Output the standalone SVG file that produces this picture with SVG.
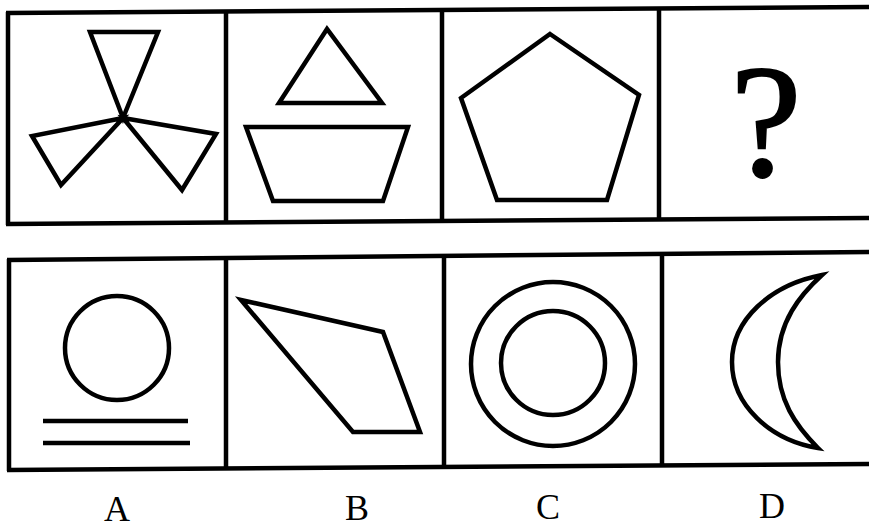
<svg xmlns="http://www.w3.org/2000/svg" width="869" height="531" viewBox="0 0 869 531">
<style>
.s{fill:none;stroke:#000;stroke-width:4.5;stroke-linejoin:miter}
.b{fill:none;stroke:#000;stroke-width:4.5}
.t{font-family:"Liberation Serif","Times New Roman",serif;fill:#000;text-anchor:middle}
</style>
<rect width="869" height="531" fill="#fff"/>
<g id="grid">
<line class="b" x1="6" y1="13" x2="869" y2="7"/>
<line class="b" x1="6" y1="224" x2="869" y2="218"/>
<line class="b" x1="8" y1="12" x2="8" y2="225"/>
<line class="b" x1="226" y1="11" x2="226" y2="223"/>
<line class="b" x1="442" y1="10" x2="442" y2="222"/>
<line class="b" x1="659" y1="9" x2="659" y2="220"/>
<line class="b" x1="7" y1="260" x2="869" y2="252"/>
<line class="b" x1="7" y1="470" x2="869" y2="464"/>
<line class="b" x1="9" y1="259" x2="9" y2="471"/>
<line class="b" x1="226" y1="258" x2="226" y2="469"/>
<line class="b" x1="444" y1="256" x2="444" y2="468"/>
<line class="b" x1="662" y1="254" x2="662" y2="466"/>
</g>
<g id="q1">
<polygon class="s" points="90,32 158,32 123,118"/>
<polygon class="s" points="123,118 32,136 61,185"/>
<polygon class="s" points="123,118 216,134 182,190"/>
</g>
<g id="q2">
<polygon class="s" points="327,29 279,103 382,103"/>
<polygon class="s" points="246,127 408,127 383,201 273,201"/>
</g>
<g id="q3">
<polygon class="s" points="550,34 639,95 607,200 497,200 461,98"/>
</g>
<g id="q4">
<text class="t" x="766" y="176" font-size="160" stroke="#000" stroke-width="2">?</text>
</g>
<g id="optA">
<circle class="s" cx="117" cy="348" r="52"/>
<line class="s" x1="43" y1="421" x2="188" y2="421"/>
<line class="s" x1="43" y1="443" x2="190" y2="443"/>
<text class="t" x="117" y="521" font-size="36">A</text>
</g>
<g id="optB">
<polygon class="s" points="241,300 383,332 420,432 353,432"/>
<text class="t" x="357" y="520" font-size="36">B</text>
</g>
<g id="optC">
<circle class="s" cx="553" cy="364" r="82"/>
<circle class="s" cx="553" cy="363" r="52"/>
<text class="t" x="548" y="519" font-size="36">C</text>
</g>
<g id="optD">
<path class="s" d="M822,275 C770,285 732,320 732,362 C732,405 770,440 818,448 C795,425 778,400 778,362 C778,322 800,295 822,275 Z"/>
<text class="t" x="772" y="518" font-size="36">D</text>
</g>
</svg>
